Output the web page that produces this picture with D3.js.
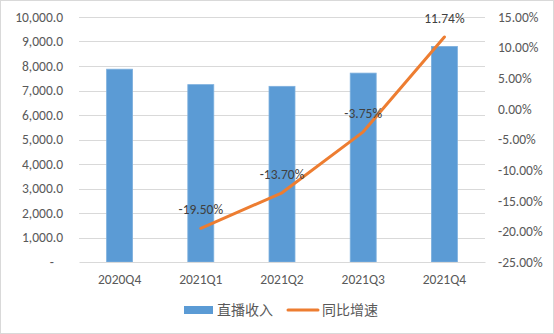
<!DOCTYPE html>
<html>
<head>
<meta charset="utf-8">
<script src="https://cdn.jsdelivr.net/npm/d3@7"></script>
<style>
  body { margin: 0; background: #fff; }
  text { font-family: Calibri, Carlito, "Noto Sans", "Noto Sans CJK SC", sans-serif; }
</style>
</head>
<body>
<div id="chart"></div>
<script>
// data
const quarters = ['2020Q4', '2021Q1', '2021Q2', '2021Q3', '2021Q4']
const revenue = [7870, 7240, 7170, 7710, 8800]
const growth = [null, -19.50, -13.70, -3.75, 11.74]
const leftTicks = [0, 1000, 2000, 3000, 4000, 5000, 6000, 7000, 8000, 9000, 10000]
const rightTicks = [-25, -20, -15, -10, -5, 0, 5, 10, 15]
const seriesNames = ['直播收入', '同比增速']

const W = 554, H = 334
const margin = { top: 17, right: 69, bottom: 72, left: 79 }
const width = W - margin.left - margin.right,
  height = H - margin.top - margin.bottom

const svg = d3.select('#chart').append('svg')
  .attr('width', W).attr('height', H)

// chart area border
svg.append('rect')
  .attr('x', 0.5).attr('y', 0.5)
  .attr('width', W - 1).attr('height', H - 1)
  .attr('fill', '#fff').attr('stroke', '#d9d9d9')

const g = svg.append('g').attr('transform', `translate(${margin.left},${margin.top})`)

const x = d3.scaleBand().domain(quarters).range([0, width]).paddingInner(0.68).paddingOuter(0.34)
const yL = d3.scaleLinear().domain([0, 10000]).range([height, 0])
const yR = d3.scaleLinear().domain([-25, 15]).range([height, 0])

// gridlines
g.selectAll('.grid').data(leftTicks.slice(1)).join('line')
  .attr('x1', 0).attr('x2', width)
  .attr('y1', d => Math.round(yL(d)) + 0.5).attr('y2', d => Math.round(yL(d)) + 0.5)
  .attr('stroke', '#d9d9d9').attr('stroke-width', 1)

// left axis
const fmtL = d => d === 0 ? '-' : d3.format(',.1f')(d)
const axL = g.append('g').call(d3.axisLeft(yL).tickValues(leftTicks).tickFormat(fmtL).tickSize(0).tickPadding(16))
axL.select('.domain').remove()
axL.selectAll('text').attr('fill', '#595959').style('font-size', '13.5px')
axL.selectAll('.tick').filter(d => d === 0).select('text').attr('dx', -9)

// right axis
const axR = g.append('g').attr('transform', `translate(${width},0)`)
  .call(d3.axisRight(yR).tickValues(rightTicks).tickFormat(d => d.toFixed(2) + '%').tickSize(0).tickPadding(13))
axR.select('.domain').remove()
axR.selectAll('text').attr('fill', '#595959').style('font-size', '13.5px')

// bars
g.selectAll('.bar').data(quarters).join('rect')
  .attr('x', d => x(d))
  .attr('y', (d, i) => yL(revenue[i]))
  .attr('width', x.bandwidth())
  .attr('height', (d, i) => height - yL(revenue[i]))
  .attr('fill', '#5b9bd5')
  .attr('stroke', '#7eb0de').attr('stroke-width', 0.8)

// bottom axis
const axB = g.append('g').attr('transform', `translate(0,${height})`)
  .call(d3.axisBottom(x).tickSize(0).tickPadding(12))
axB.select('.domain').attr('stroke', '#d9d9d9')
axB.selectAll('text').attr('fill', '#595959').style('font-size', '13.5px')

// growth line
const pts = quarters.map((q, i) => ({ q, v: growth[i] })).filter(d => d.v !== null)
const cx = d => x(d.q) + x.bandwidth() / 2
g.append('path').datum(pts)
  .attr('d', d3.line().x(cx).y(d => yR(d.v)))
  .attr('fill', 'none').attr('stroke', '#ed7d31')
  .attr('stroke-width', 3).attr('stroke-linecap', 'round').attr('stroke-linejoin', 'round')

g.selectAll('.lbl').data(pts).join('text')
  .attr('x', cx).attr('y', d => yR(d.v) - 14)
  .attr('text-anchor', 'middle')
  .attr('fill', '#404040').style('font-size', '13.5px')
  .text(d => d.v.toFixed(2) + '%')

// legend
const lg = svg.append('g').attr('transform', `translate(0,310)`)
lg.append('rect').attr('x', 184).attr('y', -4).attr('width', 29).attr('height', 8).attr('fill', '#5b9bd5')
lg.append('text').attr('x', 217).attr('y', 0).attr('dy', '0.35em')
  .attr('fill', '#595959').style('font-size', '14px').text(seriesNames[0])
lg.append('line').attr('x1', 288).attr('x2', 318).attr('y1', 0).attr('y2', 0)
  .attr('stroke', '#ed7d31').attr('stroke-width', 3).attr('stroke-linecap', 'round')
lg.append('text').attr('x', 322).attr('y', 0).attr('dy', '0.35em')
  .attr('fill', '#595959').style('font-size', '14px').text(seriesNames[1])
</script>
</body>
</html>
